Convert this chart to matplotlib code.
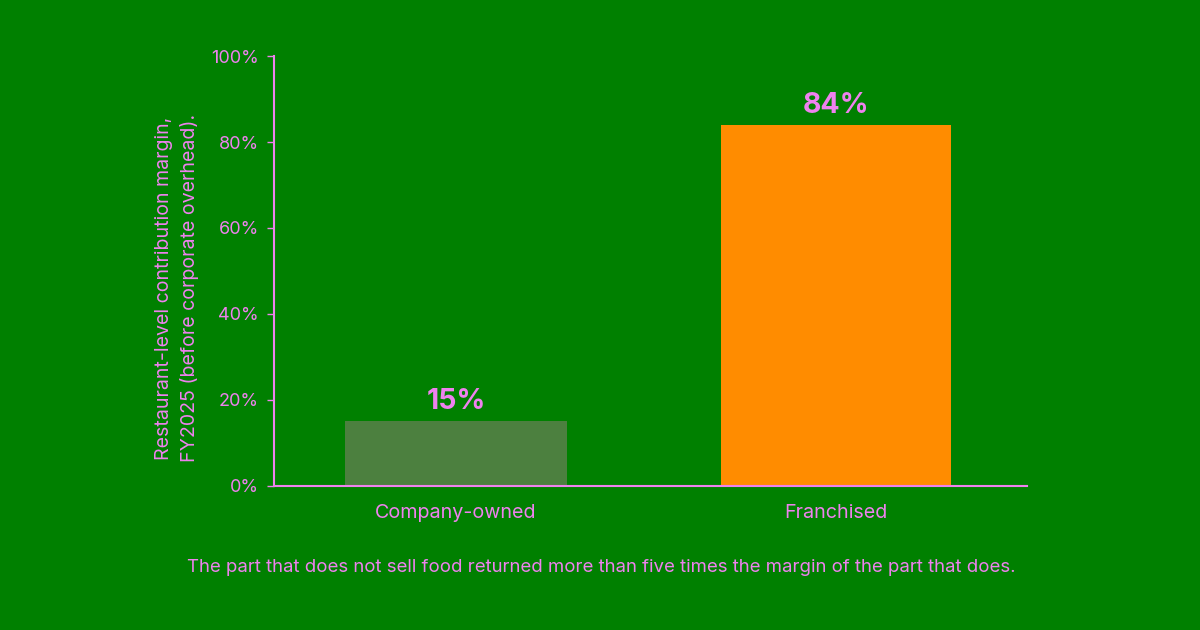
import matplotlib
matplotlib.use("Agg")
import matplotlib.pyplot as plt
from matplotlib.ticker import PercentFormatter

categories = ["Company-owned", "Franchised"]
values = [15, 84]
bar_colors = ["#4C803F", "#FF8C00"]
yticks = [0, 20, 40, 60, 80, 100]
ylabel = "Restaurant-level contribution margin,\nFY2025 (before corporate overhead)."
caption = "The part that does not sell food returned more than five times the margin of the part that does."

BG = "#008000"
FG = "#EE82EE"
plt.rcParams["font.family"] = ["Inter", "DejaVu Sans"]

fig = plt.figure(figsize=(12, 6.3), dpi=100, facecolor=BG)
ax = fig.add_axes([0.2283, 0.2286, 0.6275, 0.6825])
ax.set_facecolor(BG)

x = list(range(len(categories)))
bars = ax.bar(x, values, width=[0.585, 0.607], color=bar_colors)
for xi, v in zip(x, values):
    ax.text(xi, v + 1.4, f"{v}%", ha="center", va="bottom", fontsize=20.5,
            fontweight="bold", color=FG)

ax.set_xlim(-0.479, 1.503)
ax.set_ylim(0, 100)
ax.set_yticks(yticks)
ax.yaxis.set_major_formatter(PercentFormatter(decimals=0))
ax.set_xticks(x)
ax.set_xticklabels(categories)

for s in ["top", "right"]:
    ax.spines[s].set_visible(False)
for s in ["left", "bottom"]:
    ax.spines[s].set_color(FG)
    ax.spines[s].set_linewidth(1.5)

ax.tick_params(axis="y", colors=FG, labelsize=13, length=5, width=1, pad=6)
ax.tick_params(axis="x", colors=FG, labelsize=14.2, length=0, pad=13)
ax.set_ylabel(ylabel, color=FG, fontsize=14.1, linespacing=1.45)
ax.yaxis.set_label_coords(-0.100, 0.46)

fig.text(0.501, 0.1, caption, ha="center", va="center", color=FG, fontsize=13.4)

fig.savefig("out.png", dpi=100, facecolor=BG)
